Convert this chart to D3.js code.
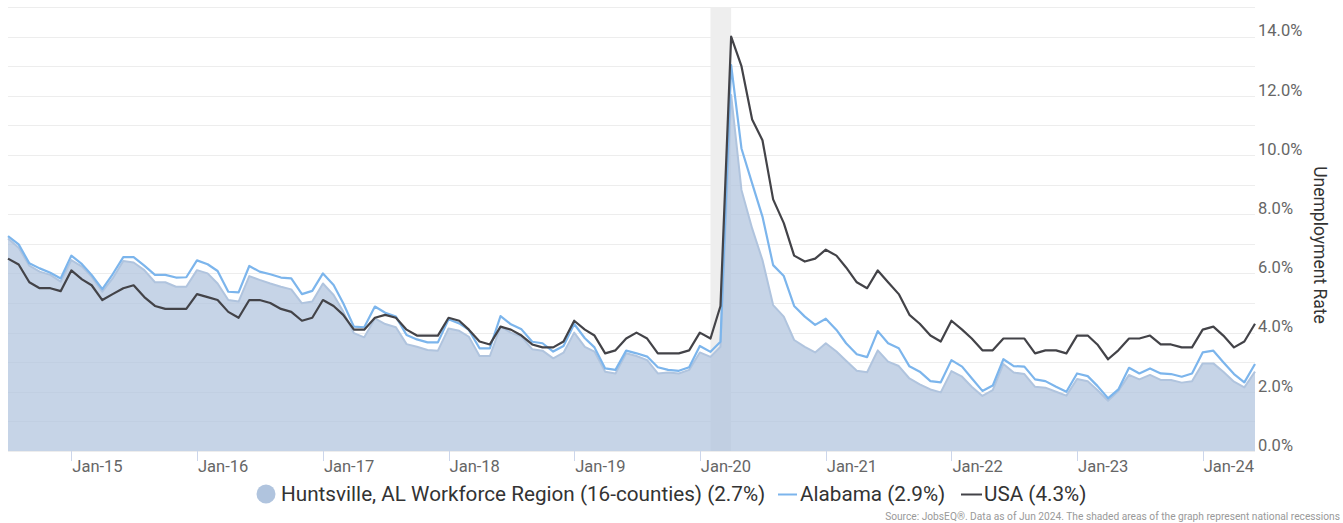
<!DOCTYPE html>
<html><head><meta charset="utf-8">
<script src="https://cdn.jsdelivr.net/npm/d3@7"></script>
<style>
body{margin:0;background:#fff;}
svg{display:block;font-family:Roboto,"Noto Sans",sans-serif;}
</style>
</head><body>
<svg id="chart" width="1343" height="523"></svg>
<script>
// ---- data (monthly, Jul 2014 .. Jun 2024) ----
const firstMonth = "2014-07-01";
const huntsville = [
  7.18,6.87,6.26,6.06,5.95,5.72,
  6.45,6.23,5.89,5.38,5.83,6.42,6.37,6.11,5.70,5.70,5.55,5.55,
  6.11,6.00,5.66,5.10,5.05,5.91,5.78,5.66,5.55,5.46,4.99,5.05,
  5.66,5.27,4.71,3.98,3.84,4.48,4.29,4.18,3.61,3.52,3.41,3.39,
  4.14,4.06,3.86,3.21,3.21,4.20,4.00,3.86,3.44,3.39,3.13,3.32,
  4.00,3.52,3.36,2.68,2.62,3.30,3.21,3.07,2.62,2.65,2.62,2.74,
  3.33,3.18,3.52,12.03,8.82,7.52,6.45,4.93,4.54,3.75,3.52,3.33,
  3.64,3.36,3.05,2.71,2.66,3.40,3.02,2.87,2.45,2.25,2.08,1.98,
  2.70,2.51,2.17,1.86,2.06,2.94,2.65,2.60,2.17,2.14,2.00,1.87,
  2.43,2.36,2.06,1.70,2.03,2.57,2.42,2.57,2.40,2.40,2.31,2.36,
  2.96,2.96,2.68,2.34,2.15,2.68
];
const alabama = [
  7.26,6.98,6.34,6.17,6.02,5.83,
  6.60,6.31,5.95,5.47,5.97,6.55,6.55,6.26,5.95,5.95,5.86,5.87,
  6.44,6.31,6.08,5.38,5.36,6.25,6.06,5.97,5.86,5.83,5.30,5.41,
  6.00,5.61,4.99,4.20,4.18,4.88,4.67,4.54,3.92,3.77,3.67,3.67,
  4.45,4.31,4.09,3.47,3.47,4.56,4.28,4.11,3.69,3.64,3.36,3.55,
  4.29,3.81,3.50,2.79,2.74,3.39,3.30,3.19,2.83,2.74,2.71,2.83,
  3.55,3.35,3.69,13.04,10.22,9.04,7.92,6.28,5.91,4.90,4.54,4.26,
  4.47,4.09,3.64,3.27,3.17,4.05,3.64,3.47,2.86,2.68,2.36,2.32,
  3.07,2.85,2.46,2.03,2.21,3.10,2.87,2.85,2.42,2.36,2.17,2.00,
  2.62,2.53,2.20,1.78,2.08,2.81,2.62,2.79,2.62,2.60,2.51,2.62,
  3.33,3.39,3.00,2.60,2.32,2.94
];
const usa = [
  6.5,6.3,5.7,5.5,5.5,5.4,
  6.1,5.8,5.6,5.1,5.3,5.5,5.6,5.2,4.9,4.8,4.8,4.8,
  5.3,5.2,5.1,4.7,4.5,5.1,5.1,5.0,4.8,4.7,4.4,4.5,
  5.1,4.9,4.6,4.1,4.1,4.5,4.6,4.5,4.1,3.9,3.9,3.9,
  4.5,4.4,4.1,3.7,3.6,4.2,4.1,3.9,3.6,3.5,3.5,3.7,
  4.4,4.1,3.9,3.3,3.4,3.8,4.0,3.8,3.3,3.3,3.3,3.4,
  4.0,3.8,4.9,14.0,13.0,11.2,10.5,8.5,7.7,6.6,6.4,6.5,
  6.8,6.6,6.2,5.7,5.5,6.1,5.7,5.3,4.6,4.3,3.9,3.7,
  4.4,4.1,3.8,3.4,3.4,3.8,3.8,3.8,3.3,3.4,3.4,3.3,
  3.9,3.9,3.6,3.1,3.4,3.8,3.8,3.9,3.6,3.6,3.5,3.5,
  4.1,4.2,3.9,3.5,3.7,4.3
];
const seriesNames = ["Huntsville, AL Workforce Region (16-counties) (2.7%)","Alabama (2.9%)","USA (4.3%)"];
const recession = ["2020-02-01","2020-04-01"];
const yTickValues = [0,2,4,6,8,10,12,14];
const xTickYears = [2015,2016,2017,2018,2019,2020,2021,2022,2023,2024];
const yTitle = "Unemployment Rate";
const sourceText = "Source: JobsEQ®. Data as of Jun 2024. The shaded areas of the graph represent national recessions";

// ---- layout ----
const svg = d3.select("#chart");
const plot = {left:8, right:1255, top:7, bottom:451};
const start = new Date(firstMonth + "T00:00:00Z");
const months = huntsville.map((_, i) => d3.utcMonth.offset(start, i));

const x = d3.scaleUtc().domain([months[0], months[months.length-1]]).range([plot.left, plot.right]);
const y = d3.scaleLinear().domain([0,15]).range([plot.bottom, plot.top]);

// gridlines every 1%
const g = svg.append("g");
g.selectAll("line.grid").data(d3.range(0,16)).join("line")
  .attr("x1", plot.left).attr("x2", plot.right)
  .attr("y1", d => Math.round(y(d))+0.5).attr("y2", d => Math.round(y(d))+0.5)
  .attr("stroke", "#ededed").attr("stroke-width", 1);

// recession band
const r0 = new Date(recession[0]+"T00:00:00Z"), r1 = new Date(recession[1]+"T00:00:00Z");
g.append("rect").attr("x", x(r0)).attr("y", plot.top).attr("width", x(r1)-x(r0)).attr("height", plot.bottom-plot.top)
  .attr("fill", "#eeeeee");

// area
const area = d3.area().x((d,i)=>x(months[i])).y0(y(0)).y1(d=>y(d));
g.append("path").datum(huntsville).attr("d", area)
  .attr("fill", "#b0c4de").attr("fill-opacity", 0.72);
const lineGen = d3.line().x((d,i)=>x(months[i])).y(d=>y(d));
g.append("path").datum(huntsville).attr("d", lineGen)
  .attr("fill","none").attr("stroke","#b0c4de").attr("stroke-width",2).attr("stroke-linejoin","round");
g.append("path").datum(alabama).attr("d", lineGen)
  .attr("fill","none").attr("stroke","#7cb5ec").attr("stroke-width",2.2).attr("stroke-linejoin","round");
g.append("path").datum(usa).attr("d", lineGen)
  .attr("fill","none").attr("stroke","#434348").attr("stroke-width",2.2).attr("stroke-linejoin","round");

// x axis ticks & labels
const xTicks = xTickYears.map(yr => new Date(Date.UTC(yr,0,1)));
const fmt = d3.utcFormat("%b-%y");
const xa = svg.append("g");
xa.selectAll("line").data(xTicks).join("line")
  .attr("x1", d=>Math.round(x(d))+0.5).attr("x2", d=>Math.round(x(d))+0.5)
  .attr("y1", plot.bottom).attr("y2", plot.bottom+10)
  .attr("stroke", "#ccd6eb");
xa.selectAll("text").data(xTicks).join("text")
  .attr("x", d=>x(d)+1).attr("y", 466).attr("dy","0.35em")
  .attr("font-size", 16.5).attr("fill", "#666").text(d=>fmt(d));

// y labels (right)
const ya = svg.append("g");
ya.selectAll("text").data(yTickValues).join("text")
  .attr("x", 1258).attr("y", d=>y(d)-6).attr("dy","0.35em")
  .attr("font-size", 16.5).attr("fill", "#666").text(d=>d3.format(".1f")(d)+"%");
svg.append("text").attr("transform", "translate(1314,245) rotate(90)")
  .attr("text-anchor","middle").attr("font-size",17.5).attr("fill","#333").text(yTitle);

// legend
const lg = svg.append("g").attr("font-size", 20.7).attr("fill", "#333");
lg.append("circle").attr("cx", 266).attr("cy", 494).attr("r", 9.5).attr("fill", "#b0c4de");
lg.append("text").attr("x", 281).attr("y", 494).attr("dy","0.35em").text(seriesNames[0]);
lg.append("line").attr("x1",778).attr("x2",797).attr("y1",494.5).attr("y2",494.5).attr("stroke","#7cb5ec").attr("stroke-width",2);
lg.append("text").attr("x", 800).attr("y", 494).attr("dy","0.35em").text(seriesNames[1]);
lg.append("line").attr("x1",961).attr("x2",982).attr("y1",494.5).attr("y2",494.5).attr("stroke","#434348").attr("stroke-width",2);
lg.append("text").attr("x", 984).attr("y", 494).attr("dy","0.35em").text(seriesNames[2]);

// source
svg.append("text").attr("x", 1340).attr("y", 516).attr("dy","0.35em").attr("text-anchor","end")
  .attr("font-size", 10.2).attr("fill", "#999").text(sourceText);
</script>
</body></html>
